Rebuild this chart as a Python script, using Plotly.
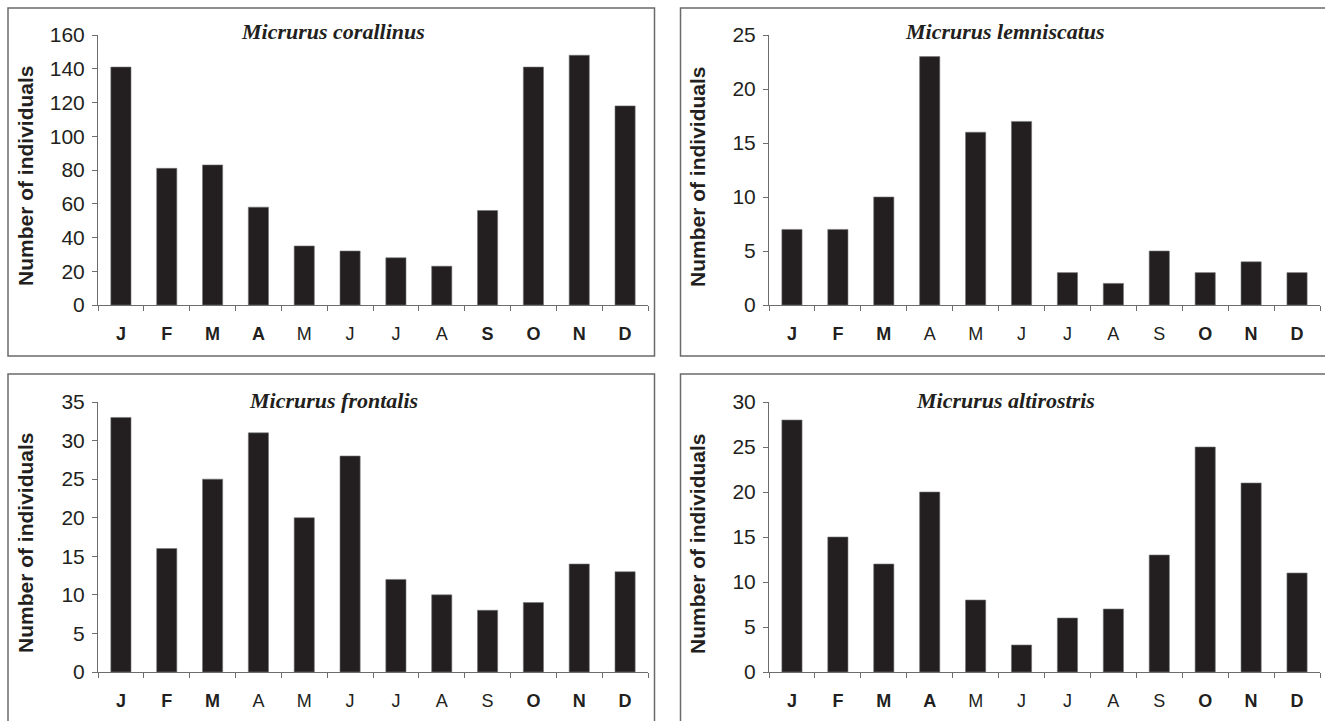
import plotly.graph_objects as go

W, H = 1325, 721

months = ["Jan", "Feb", "Mar", "Apr", "May", "Jun", "Jul", "Aug", "Sep", "Oct", "Nov", "Dec"]
month_letters = ["J", "F", "M", "A", "M", "J", "J", "A", "S", "O", "N", "D"]

species = ["Micrurus corallinus", "Micrurus lemniscatus", "Micrurus frontalis", "Micrurus altirostris"]

corallinus = [141, 81, 83, 58, 35, 32, 28, 23, 56, 141, 148, 118]
lemniscatus = [7, 7, 10, 23, 16, 17, 3, 2, 5, 3, 4, 3]
frontalis = [33, 16, 25, 31, 20, 28, 12, 10, 8, 9, 14, 13]
altirostris = [28, 15, 12, 20, 8, 3, 6, 7, 13, 25, 21, 11]

bold_corallinus = ["Jan", "Feb", "Mar", "Apr", "Sep", "Oct", "Nov", "Dec"]
bold_lemniscatus = ["Jan", "Feb", "Mar", "Oct", "Nov", "Dec"]
bold_frontalis = ["Jan", "Feb", "Mar", "Oct", "Nov", "Dec"]
bold_altirostris = ["Jan", "Feb", "Mar", "Apr", "Oct", "Nov", "Dec"]

y_max = [160, 25, 35, 30]
y_dtick = [20, 5, 5, 5]

series = [corallinus, lemniscatus, frontalis, altirostris]
bolds = [bold_corallinus, bold_lemniscatus, bold_frontalis, bold_altirostris]

# pixel geometry of the panels
plot_x = [(98, 648), (769, 1320), (98, 648), (769, 1320)]
plot_y = [(35, 305), (35, 305), (402, 672), (402, 672)]  # (top, bottom)
title_pos = [(333, 32), (1005, 32), (333, 400), (1005, 400)]
ytitle_x = [25, 697, 25, 697]
boxes = [(8, 8, 654.5, 356), (680.5, 8, 1330, 356), (8, 374, 654.5, 730), (680.5, 374, 1330, 730)]

def px(x):
    return x / W

def py(y):
    return 1 - y / H

ink = "#231f20"
axis_col = "#6d6d6d"

fig = go.Figure()
layout = dict(
    width=W, height=H,
    margin=dict(l=0, r=0, t=0, b=0, pad=0),
    paper_bgcolor="white", plot_bgcolor="white",
    showlegend=False,
    bargap=0.56,
)
shapes = []
annotations = []

for i in range(4):
    n = "" if i == 0 else str(i + 1)
    xa = "x" + n
    ya = "y" + n
    fig.add_trace(go.Bar(
        x=months, y=series[i], xaxis=xa, yaxis=ya,
        marker=dict(color=ink, line=dict(color="#777777", width=0.6)),
        hoverinfo="x+y",
    ))
    ticktext = [("<b>%s</b>" % l) if m in bolds[i] else l for m, l in zip(months, month_letters)]
    x0, x1 = plot_x[i]
    yt, yb = plot_y[i]
    layout["xaxis" + n] = dict(
        domain=[px(x0), px(x1)], anchor=ya,
        type="category", categoryorder="array", categoryarray=months,
        tickmode="array", tickvals=months, ticktext=ticktext,
        tickson="boundaries", ticks="outside", ticklen=5, tickwidth=1, tickcolor=axis_col,
        showline=True, linecolor=axis_col, linewidth=1,
        showgrid=False, zeroline=False, automargin=False,
        tickfont=dict(family="Liberation Sans, Arial", size=18, color=ink),
        ticklabelstandoff=12,
        fixedrange=True,
    )
    layout["yaxis" + n] = dict(
        domain=[py(yb), py(yt)], anchor=xa,
        range=[0, y_max[i]], dtick=y_dtick[i], tick0=0,
        ticks="outside", ticklen=5, tickwidth=1, tickcolor=axis_col,
        showline=True, linecolor=axis_col, linewidth=1,
        showgrid=False, zeroline=False, automargin=False,
        tickfont=dict(family="Liberation Sans, Arial", size=21, color=ink),
        ticklabelstandoff=3,
        fixedrange=True,
    )
    tx, ty = title_pos[i]
    annotations.append(dict(
        x=px(tx), y=py(ty), xref="paper", yref="paper",
        text="<b><i>%s</i></b>" % species[i], showarrow=False,
        font=dict(family="Liberation Serif, Times New Roman", size=22, color=ink),
        xanchor="center", yanchor="middle",
    ))
    annotations.append(dict(
        x=px(ytitle_x[i]), y=py((yt + yb) / 2 + 6), xref="paper", yref="paper",
        text="<b>Number of individuals</b>", showarrow=False, textangle=-90,
        font=dict(family="Liberation Sans, Arial", size=21, color=ink),
        xanchor="center", yanchor="middle",
    ))
    bx0, by0, bx1, by1 = boxes[i]
    shapes.append(dict(
        type="rect", xref="paper", yref="paper",
        x0=px(bx0), x1=px(bx1), y0=py(by1), y1=py(by0),
        line=dict(color="#6a6a6a", width=1.5), fillcolor="rgba(0,0,0,0)",
        layer="below",
    ))

layout["shapes"] = shapes
layout["annotations"] = annotations
fig.update_layout(**layout)
fig.write_html(
    "out.html",
    config={"displayModeBar": False},
    post_script="document.body.style.margin='0';document.body.style.padding='0';document.body.style.overflow='hidden';",
)
